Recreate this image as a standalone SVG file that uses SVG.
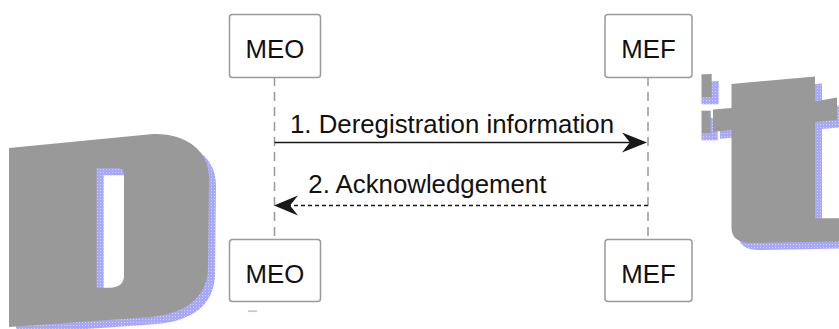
<svg xmlns="http://www.w3.org/2000/svg" width="839" height="329" viewBox="0 0 839 329">
<style>
.box{fill:#fff;stroke:#9a9a9a;stroke-width:1.5}
.lbl{font-family:"Liberation Sans",Arial,sans-serif;font-size:25.8px;fill:#111}
.life{stroke:#999;stroke-width:1.5;stroke-dasharray:9,6;fill:none}
.msg{stroke:#181818;stroke-width:1.5;fill:none}
.wm{fill:#999999}
.sh{fill:url(#dots)}
</style>
<defs>
<pattern id="dots" width="3" height="3" patternUnits="userSpaceOnUse">
<rect width="3" height="3" fill="#a8a8fa"/>
<rect width="1" height="1" fill="#d2d2ff"/>
</pattern>
<path id="Dl" fill-rule="evenodd" d="M9,148 L153,134 C185,133 209,150 209,178 L208,268 C207,298 185,314 150,317 L9,327 Z M96.7,168.3 L118,168.3 C122,168.3 124,171 124,176 L124,276 C124,283 119,287.7 110,287.7 L96.7,287.7 Z"/>
<path id="Tl" d="M731.5,84 L815,76.5 L815,101.5 L837,97.5 L837,120 L815,122 L815,218.3 L839,218.3 L839,241.5 L752,243 C739,243 731.5,238 731.5,228 L731.5,130 L713,131.7 L713,109.5 L731.5,108 Z"/>
<path id="F1" d="M680,75 L711.7,74 L711.7,97.3 L680,97.3 Z"/>
<path id="F2" d="M680,110.7 L710.7,110.7 L710.7,133.3 L680,133.3 Z"/>
</defs>
<rect width="839" height="329" fill="#fff"/>
<g id="watermark">
<use href="#Dl" class="sh" x="7" y="7"/>
<use href="#Tl" class="sh" x="7" y="7"/>
<use href="#F1" class="sh" x="7" y="7"/>
<use href="#F2" class="sh" x="7" y="7"/>
<use href="#Dl" class="wm"/>
<use href="#Tl" class="wm"/>
<use href="#F1" class="wm"/>
<use href="#F2" class="wm"/>
<rect x="220" y="0" width="481.5" height="310" fill="#fff"/>
<rect x="248" y="310.5" width="9" height="1.2" fill="#a8a8fa"/>
</g>
<g id="lifelines">
<line class="life" x1="274.5" y1="77" x2="274.5" y2="239"/>
<line class="life" x1="648" y1="77" x2="648" y2="239"/>
</g>
<g id="MEO-top"><rect class="box" x="229.5" y="14.5" width="91" height="63" rx="3"/><text class="lbl" x="275" y="57.5" text-anchor="middle">MEO</text></g>
<g id="MEF-top"><rect class="box" x="605" y="14.5" width="87" height="63" rx="3"/><text class="lbl" x="648.5" y="57.5" text-anchor="middle">MEF</text></g>
<g id="MEO-bottom"><rect class="box" x="229.5" y="239.5" width="91" height="62" rx="3"/><text class="lbl" x="275" y="282.5" text-anchor="middle">MEO</text></g>
<g id="MEF-bottom"><rect class="box" x="605" y="239.5" width="87" height="62" rx="3"/><text class="lbl" x="648.5" y="282.5" text-anchor="middle">MEF</text></g>
<g id="connectors">
<line class="msg" x1="274.5" y1="142.5" x2="640" y2="142.5"/>
<polygon fill="#181818" points="647,142.5 622,132.5 630,142.5 622,152.5"/>
<text class="lbl" x="290" y="133.3">1. Deregistration information</text>
<line class="msg" x1="648" y1="205.5" x2="282" y2="205.5" stroke-dasharray="4,3"/>
<polygon fill="#181818" points="274,205.5 298,195.5 290,205.5 298,215.5"/>
<text class="lbl" x="308.3" y="193.3">2. Acknowledgement</text>
</g>
</svg>
